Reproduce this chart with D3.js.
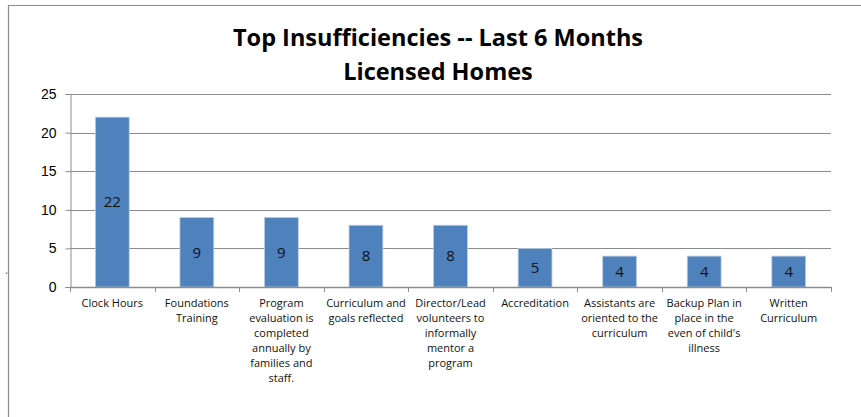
<!DOCTYPE html>
<html>
<head>
<meta charset="utf-8">
<script src="https://cdn.jsdelivr.net/npm/d3@7"></script>
<style>
  body { margin: 0; background: #fff; }
  svg { display: block; font-family: "Open Sans", "Liberation Sans", sans-serif; }
</style>
</head>
<body>
<div class="visHolder"></div>
<script>
// chart data
const categories = [
  "Clock Hours",
  "Foundations\nTraining",
  "Program\nevaluation is\ncompleted\nannually by\nfamilies and\nstaff.",
  "Curriculum and\ngoals reflected",
  "Director/Lead\nvolunteers to\ninformally\nmentor a\nprogram",
  "Accreditation",
  "Assistants are\noriented to the\ncurriculum",
  "Backup Plan in\nplace in the\neven of child's\nillness",
  "Written\nCurriculum"
];
const values = [22, 9, 9, 8, 8, 5, 4, 4, 4];
const yTicks = [0, 5, 10, 15, 20, 25];
const titleLines = ["Top Insufficiencies -- Last 6 Months", "Licensed Homes"];

const width = 861;
const height = 417;
const margin = { top: 94, right: 30, bottom: 130, left: 70 };

const svg = d3
  .select(".visHolder")
  .append("svg")
  .attr("width", width)
  .attr("height", height);

// outer frame (only top and left edges show)
svg.append("line")
  .attr("x1", 8).attr("x2", width).attr("y1", 5.5).attr("y2", 5.5)
  .attr("stroke", "#8c8c8c").attr("stroke-width", 1.2);
svg.append("line")
  .attr("x1", 8.5).attr("x2", 8.5).attr("y1", 5).attr("y2", height)
  .attr("stroke", "#8c8c8c").attr("stroke-width", 1.2);

const xScale = d3
  .scaleBand()
  .domain(categories)
  .range([margin.left, width - margin.right])
  .paddingInner(0.6)
  .paddingOuter(0.3);

const yScale = d3
  .scaleLinear()
  .domain([0, 25])
  .range([height - margin.bottom, margin.top]);

// gridlines
svg.append("g")
  .selectAll("line")
  .data(yTicks.filter((d) => d > 0))
  .enter()
  .append("line")
  .attr("x1", margin.left)
  .attr("x2", width - margin.right)
  .attr("y1", (d) => Math.round(yScale(d)) + 0.5)
  .attr("y2", (d) => Math.round(yScale(d)) + 0.5)
  .attr("stroke", "#8c8c8c")
  .attr("stroke-width", 1);

// y axis
const yAxis = d3.axisLeft(yScale).tickValues(yTicks).tickSize(5).tickPadding(9);
svg.append("g")
  .attr("transform", `translate(${margin.left + 0.5}, 0)`)
  .call(yAxis)
  .call((g) => g.selectAll("path, line").attr("stroke", "#8c8c8c"))
  .call((g) => g.selectAll("text").style("font-size", "14px").attr("fill", "#000"));

// bars
svg.append("g")
  .selectAll("rect")
  .data(values)
  .enter()
  .append("rect")
  .attr("x", (d, i) => xScale(categories[i]))
  .attr("y", (d) => yScale(d))
  .attr("width", xScale.bandwidth())
  .attr("height", (d) => yScale(0) - yScale(d))
  .attr("fill", "#4f81bd")
  .attr("stroke", "#b9cde5")
  .attr("stroke-width", 0.8);

// value labels in the middle of each bar
svg.append("g")
  .selectAll("text")
  .data(values)
  .enter()
  .append("text")
  .attr("x", (d, i) => xScale(categories[i]) + xScale.bandwidth() / 2)
  .attr("y", (d) => (yScale(d) + yScale(0)) / 2)
  .attr("dy", "0.35em")
  .attr("text-anchor", "middle")
  .style("font-size", "15px")
  .attr("fill", "#111")
  .text((d) => d);

// x axis, ticks sit on category boundaries
const slot = (width - margin.right - margin.left) / categories.length;
const boundaries = d3.range(categories.length + 1).map((i) => margin.left + i * slot);
const xAxisG = svg.append("g").attr("transform", `translate(0, ${yScale(0)})`);
xAxisG.append("line")
  .attr("x1", margin.left).attr("x2", width - margin.right)
  .attr("y1", 0.5).attr("y2", 0.5)
  .attr("stroke", "#8c8c8c").attr("stroke-width", 1.5);
xAxisG.selectAll(".tick")
  .data(boundaries)
  .enter()
  .append("line")
  .attr("x1", (d) => Math.round(d) + 0.5)
  .attr("x2", (d) => Math.round(d) + 0.5)
  .attr("y1", 0)
  .attr("y2", 5)
  .attr("stroke", "#8c8c8c");

// category labels, one tspan per line
const labels = xAxisG.selectAll(".cat")
  .data(categories)
  .enter()
  .append("text")
  .attr("class", "cat")
  .attr("text-anchor", "middle")
  .style("font-size", "11px")
  .attr("fill", "#111");
labels.each(function (d) {
  d.split("\n").forEach((line, j) => {
    d3.select(this).append("tspan")
      .attr("x", xScale(d) + xScale.bandwidth() / 2)
      .attr("y", 20 + j * 15)
      .text(line);
  });
});

// small stray mark near the left edge
svg.append("text")
  .attr("x", 5)
  .attr("y", 272)
  .style("font-size", "11px")
  .attr("fill", "#333")
  .text("ˎ");

// title
svg.append("g")
  .selectAll("text")
  .data(titleLines)
  .enter()
  .append("text")
  .attr("x", 438)
  .attr("y", (d, i) => 46 + i * 34)
  .attr("text-anchor", "middle")
  .style("font-size", "23.5px")
  .style("font-weight", "bold")
  .text((d) => d);
</script>
</body>
</html>
